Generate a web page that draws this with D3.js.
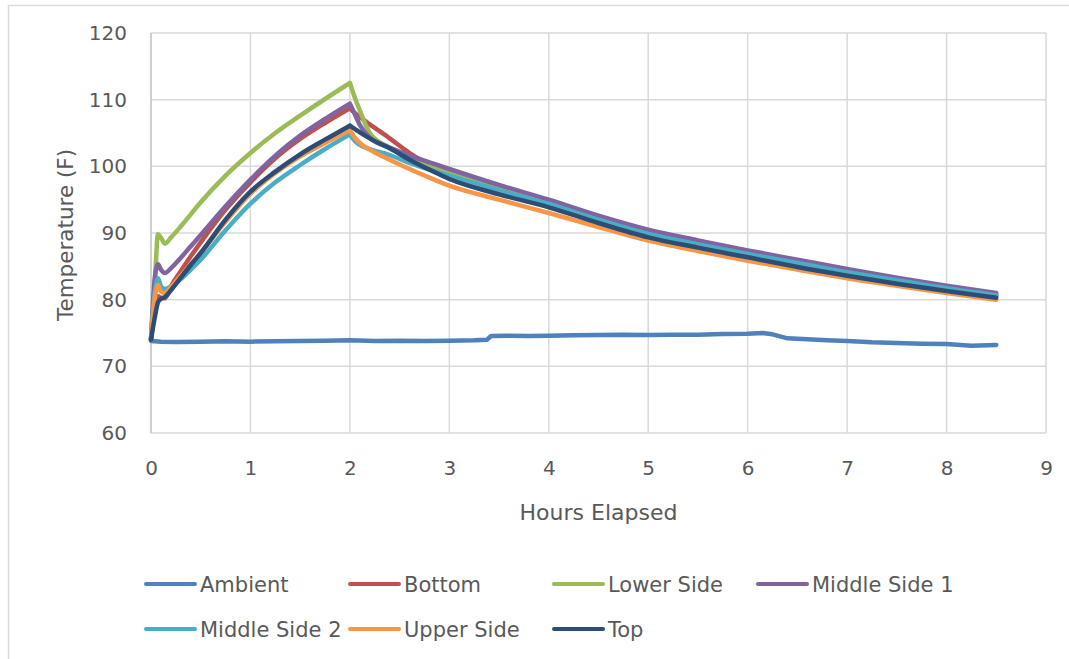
<!DOCTYPE html>
<html>
<head>
	<meta charset="utf-8">
	<title>Temperature vs Hours Elapsed</title>
	<script type="text/javascript" src="https://cdn.jsdelivr.net/npm/d3@7"></script>
	<style>
		body { margin: 0; background: #fff; }
		text { font-family: "DejaVu Sans", "Open Sans", sans-serif; fill: #595959; }
	</style>
</head>
<body>
	<script type="text/javascript">
		// data
		var seriesNames = ["Ambient", "Bottom", "Lower Side", "Middle Side 1", "Middle Side 2", "Upper Side", "Top"];
		var seriesColors = ["#4f81bd", "#c0504d", "#9bbb59", "#8064a2", "#4bacc6", "#f79646", "#2c4d75"];

		var ambientHours = [0, 0.1, 0.25, 0.5, 0.75, 1, 1.25, 1.5, 1.75, 2, 2.25, 2.5, 2.75, 3, 3.25, 3.38, 3.42, 3.6, 3.8, 4,
			4.25, 4.5, 4.75, 5, 5.25, 5.5, 5.75, 6, 6.15, 6.25, 6.4, 6.6, 6.8, 7, 7.25, 7.5, 7.75, 8, 8.25, 8.5];
		var ambient = [73.8, 73.7, 73.65, 73.7, 73.75, 73.7, 73.75, 73.8, 73.85, 73.9, 73.8, 73.85, 73.8, 73.85, 73.9, 74.0, 74.55, 74.6, 74.55, 74.6,
			74.65, 74.7, 74.75, 74.7, 74.75, 74.75, 74.85, 74.9, 75.0, 74.8, 74.2, 74.05, 73.9, 73.8, 73.6, 73.5, 73.4, 73.35, 73.1, 73.2];

		// heated probes share one time base; heater off at hour 2
		var hours = [0, 0.04, 0.07, 0.1, 0.14, 0.2, 0.3, 0.4, 0.5, 0.75, 1, 1.25, 1.5, 1.75, 2, 2.05, 2.1, 2.2, 2.4, 2.6, 2.8, 3,
			3.5, 4, 4.5, 5, 5.5, 6, 6.5, 7, 7.5, 8, 8.5];
		var heaterOffHour = 2;
		var bottom = [74, 78.5, 80.5, 80.3, 80.2, 82.0, 84.3, 86.5, 88.6, 93.5, 97.6, 101.2, 104.1, 106.5, 108.7, 108.0, 107.4, 106.3, 104.2, 102.0, 100.2, 98.5,
			96.3, 94.1, 91.9, 89.9, 88.3, 86.8, 85.4, 84.1, 82.9, 81.7, 80.6];
		var lowerSide = [74, 83, 89.8, 89.3, 88.4, 89.3, 91.0, 92.8, 94.6, 98.6, 102.0, 105.0, 107.6, 110.1, 112.5, 110.3, 108.4, 105.0, 102.8, 101.5, 100.2, 99.0,
			96.6, 94.3, 92.2, 90.2, 88.5, 87.0, 85.6, 84.3, 83.1, 81.9, 80.8];
		var middleSide1 = [74, 83.5, 85.3, 84.5, 84.0, 84.7, 86.3, 88.0, 89.7, 94.0, 98.0, 101.6, 104.6, 107.1, 109.4, 107.8, 106.2, 104.3, 102.8, 101.6, 100.6, 99.6,
			97.2, 95.0, 92.6, 90.5, 88.9, 87.4, 86.0, 84.6, 83.3, 82.1, 81.0];
		var middleSide2 = [74, 81.5, 83.2, 82.0, 81.6, 82.0, 83.1, 84.5, 86.0, 90.4, 94.4, 97.6, 100.2, 102.6, 104.8, 103.8, 103.2, 102.6, 101.7, 100.5, 99.5, 98.6,
			96.4, 94.35, 92.0, 89.85, 88.3, 86.85, 85.5, 84.1, 82.9, 81.7, 80.65];
		var upperSide = [74, 80.5, 82.2, 81.2, 81.0, 81.9, 83.6, 85.3, 87.0, 91.7, 95.9, 99.0, 101.5, 103.5, 105.4, 104.3, 103.5, 102.5, 101.0, 99.6, 98.3, 97.1,
			95.0, 93.0, 90.9, 88.85, 87.3, 85.85, 84.5, 83.2, 82.1, 81.0, 80.0];
		var topProbe = [74, 77.5, 79.6, 80.1, 80.4, 81.4, 83.3, 85.2, 87.0, 92.0, 96.2, 99.2, 101.8, 104.0, 106.1, 105.6, 105.1, 104.2, 102.7, 101.0, 99.5, 98.1,
			95.8, 93.85, 91.5, 89.35, 87.8, 86.35, 84.9, 83.6, 82.4, 81.3, 80.3];

		var xTicks = [0, 1, 2, 3, 4, 5, 6, 7, 8, 9];
		var yTicks = [60, 70, 80, 90, 100, 110, 120];

		var series = [
			{name: seriesNames[0], color: seriesColors[0], xs: ambientHours, ys: ambient, smooth: false},
			{name: seriesNames[1], color: seriesColors[1], xs: hours, ys: bottom, smooth: true},
			{name: seriesNames[2], color: seriesColors[2], xs: hours, ys: lowerSide, smooth: true},
			{name: seriesNames[3], color: seriesColors[3], xs: hours, ys: middleSide1, smooth: true},
			{name: seriesNames[4], color: seriesColors[4], xs: hours, ys: middleSide2, smooth: true},
			{name: seriesNames[5], color: seriesColors[5], xs: hours, ys: upperSide, smooth: true},
			{name: seriesNames[6], color: seriesColors[6], xs: hours, ys: topProbe, smooth: true}
		];

		var width = 1069, height = 659;
		var plot = {left: 151, right: 1046, top: 33, bottom: 433};

		var svg = d3.select("body").append("svg")
			.attr("width", width)
			.attr("height", height);

		// chart border (only top/left show in the crop)
		svg.append("rect")
			.attr("x", 8.5).attr("y", 5.5)
			.attr("width", 1100).attr("height", 700)
			.attr("fill", "none").attr("stroke", "#d9d9d9").attr("stroke-width", 1.5);

		var x = d3.scaleLinear().domain([0, 9]).range([plot.left, plot.right]);
		var y = d3.scaleLinear().domain([60, 120]).range([plot.bottom, plot.top]);

		// gridlines
		svg.append("g").selectAll("line").data(yTicks).enter().append("line")
			.attr("x1", plot.left).attr("x2", plot.right)
			.attr("y1", function(d){ return y(d); }).attr("y2", function(d){ return y(d); })
			.attr("stroke", "#d9d9d9").attr("stroke-width", 1.5);
		svg.append("g").selectAll("line").data(xTicks).enter().append("line")
			.attr("y1", plot.top).attr("y2", plot.bottom)
			.attr("x1", function(d){ return x(d); }).attr("x2", function(d){ return x(d); })
			.attr("stroke", function(d){ return d === 0 ? "#bfbfbf" : "#d9d9d9"; })
			.attr("stroke-width", 1.5);

		// axes: labels only, the lines come from the grid
		svg.append("g")
			.attr("transform", "translate(" + (plot.left - 24) + ",0)")
			.call(d3.axisLeft(y).tickValues(yTicks).tickSize(0).tickPadding(0));
		svg.append("g")
			.attr("transform", "translate(0," + (plot.bottom + 28) + ")")
			.call(d3.axisBottom(x).tickValues(xTicks).tickSize(0).tickPadding(0));
		svg.selectAll(".domain").remove();
		svg.selectAll(".tick text")
			.attr("font-family", null).attr("fill", "#595959")
			.style("font-size", "20px");

		svg.append("text")
			.attr("x", (plot.left + plot.right) / 2).attr("y", 520)
			.attr("text-anchor", "middle")
			.style("font-size", "22px")
			.text("Hours Elapsed");
		svg.append("text")
			.attr("transform", "translate(73," + ((plot.top + plot.bottom) / 2 + 2) + ") rotate(-90)")
			.attr("text-anchor", "middle")
			.style("font-size", "21.5px")
			.text("Temperature (F)");

		// series lines; heated probes drawn as two smooth pieces so the peak stays sharp
		var smoothLine = d3.line()
			.x(function(d){ return x(d[0]); })
			.y(function(d){ return y(d[1]); })
			.curve(d3.curveMonotoneX);
		var plainLine = d3.line()
			.x(function(d){ return x(d[0]); })
			.y(function(d){ return y(d[1]); });

		function pathFor(s) {
			var pts = d3.zip(s.xs, s.ys);
			if (!s.smooth) return plainLine(pts);
			var heat = pts.filter(function(p){ return p[0] <= heaterOffHour; });
			var cool = pts.filter(function(p){ return p[0] >= heaterOffHour; });
			return smoothLine(heat) + smoothLine(cool);
		}

		svg.append("g").selectAll("path").data(series).enter().append("path")
			.attr("d", pathFor)
			.attr("fill", "none")
			.attr("stroke", function(s){ return s.color; })
			.attr("stroke-width", 4.5)
			.attr("stroke-linejoin", "round")
			.attr("stroke-linecap", "round");

		// legend
		var legend = svg.append("g").selectAll("g").data(series).enter().append("g")
			.attr("transform", function(s, i){
				return "translate(" + (146 + (i % 4) * 204) + "," + (584 + Math.floor(i / 4) * 45) + ")";
			});
		legend.append("line")
			.attr("x1", 0).attr("x2", 49)
			.attr("stroke", function(s){ return s.color; })
			.attr("stroke-width", 4).attr("stroke-linecap", "round");
		legend.append("text")
			.attr("x", 54).attr("dy", "0.36em")
			.style("font-size", "21px")
			.text(function(s){ return s.name; });
	</script>
</body>
</html>
